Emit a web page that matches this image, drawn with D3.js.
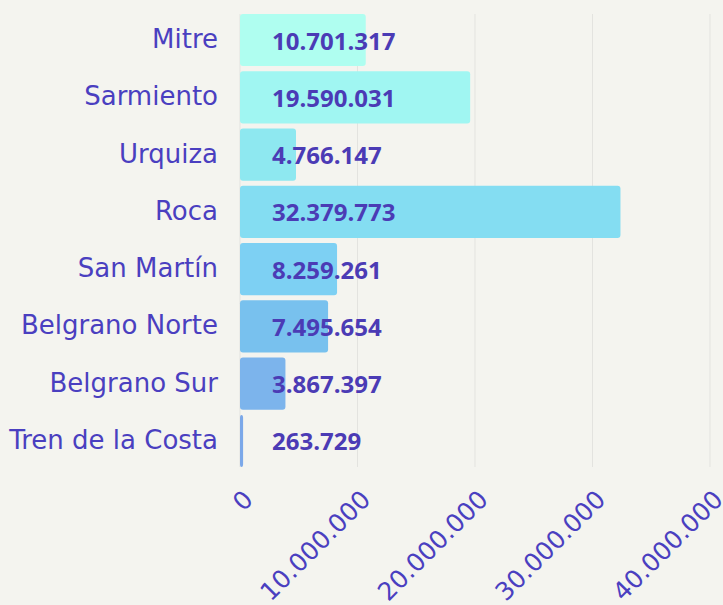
<!DOCTYPE html>
<html><head><meta charset="utf-8">
<script src="https://cdn.jsdelivr.net/npm/d3@7"></script>
<style>
html,body{margin:0;padding:0;background:#f4f4ef;}
svg{display:block;}
</style></head>
<body>
<svg id="chart" width="723" height="605"></svg>
<script>
const categories = ["Mitre","Sarmiento","Urquiza","Roca","San Martín","Belgrano Norte","Belgrano Sur","Tren de la Costa"];
const values = [10701317,19590031,4766147,32379773,8259261,7495654,3867397,263729];
const barColors = ["#affef0","#a0f6f2","#8ee8f0","#84ddf2","#7dd0f3","#78c1ee","#7cb4ec","#7ba8e9"];
const tickValues = [0,10000000,20000000,30000000,40000000];

const fmt = v => d3.format(",")(v).replace(/,/g,".");
const svg = d3.select("#chart");
const x = d3.scaleLinear().domain([0,40000000]).range([240,710]);
const y = d3.scaleBand().domain(categories).range([14,467]).paddingInner(0.09).paddingOuter(0.0);

// gridlines
svg.append("g").selectAll("line").data(tickValues).join("line")
  .attr("x1",d=>x(d)).attr("x2",d=>x(d)).attr("y1",14).attr("y2",467)
  .attr("stroke","#e3e3df").attr("stroke-width",1);

// bars
svg.append("g").selectAll("rect").data(values).join("rect")
  .attr("x",x(0)).attr("y",(d,i)=>y(categories[i]))
  .attr("width",d=>Math.max(3,x(d)-x(0))).attr("height",y.bandwidth())
  .attr("rx",3).attr("fill",(d,i)=>barColors[i]);

// category labels
svg.append("g").selectAll("text").data(categories).join("text")
  .attr("x",218).attr("y",d=>y(d)+y.bandwidth()/2-1)
  .attr("text-anchor","end").attr("dominant-baseline","central")
  .attr("font-family","'DejaVu Sans', sans-serif").attr("font-size",26)
  .attr("fill","#4a3fc0")
  .text(d=>d);

// value labels
svg.append("g").selectAll("text").data(values).join("text")
  .attr("x",272).attr("y",(d,i)=>y(categories[i])+y.bandwidth()/2)
  .attr("dominant-baseline","central")
  .attr("font-family","'Open Sans', sans-serif").attr("font-weight","bold").attr("font-size",24)
  .attr("fill","#4b3bb5")
  .text(d=>fmt(d));

// x axis labels
const xAxis = d3.axisBottom(x).tickValues(tickValues).tickSize(0).tickFormat(fmt);
const gx = svg.append("g").attr("transform","translate(0,478)").call(xAxis);
gx.select(".domain").remove();
gx.selectAll("text")
  .attr("font-family","'DejaVu Sans', sans-serif").attr("font-size",25)
  .attr("fill","#4a3fc0").attr("text-anchor","end")
  .attr("dy","0").attr("y",0)
  .attr("transform","translate(14,23) rotate(-45)");
</script>
</body></html>
